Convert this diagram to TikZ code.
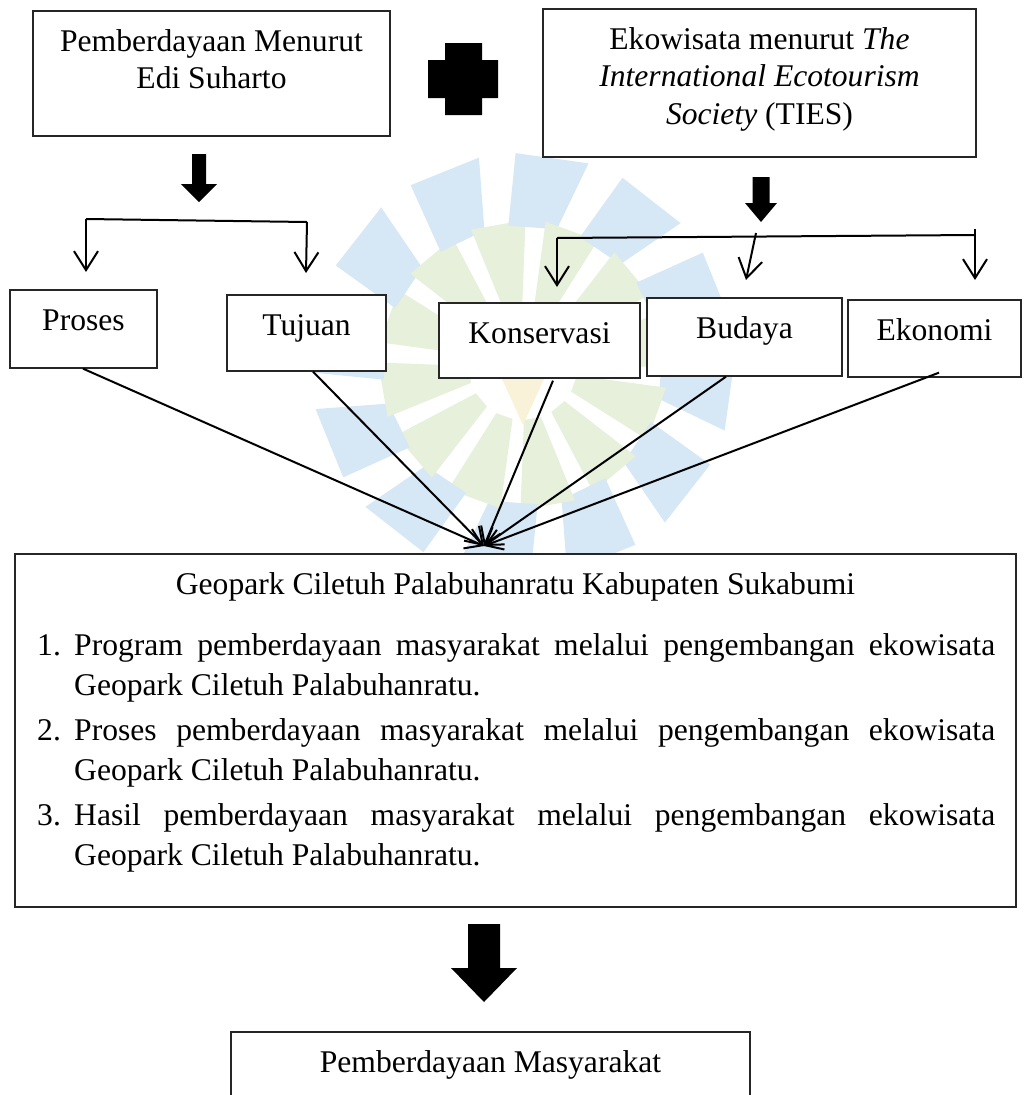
\documentclass[tikz,border=0pt]{standalone}
\usepackage{fontspec}
\setmainfont{Liberation Serif}
\usetikzlibrary{arrows.meta}
\definecolor{wmblue}{RGB}{214,231,245}
\definecolor{wmgreen}{RGB}{230,240,219}
\definecolor{wmyellow}{RGB}{249,242,216}
\newcommand\blkarrow[6]{% x, top, shaft half, shaft bottom, head half, tip
  \fill (#1-#3,#2) -- (#1+#3,#2) -- (#1+#3,#4) -- (#1+#5,#4) -- (#1,#6) -- (#1-#5,#4) -- (#1-#3,#4) -- cycle;}
\begin{document}
\begin{tikzpicture}[x=1pt,y=-1pt,
  box/.style={draw=black!85, line width=1.3pt, fill=white, inner sep=0pt,
    font=\fontsize{31.6}{37.7}\selectfont, text height=40pt},
  txt/.style={inner sep=0pt, anchor=base, font=\fontsize{31.6}{37.7}\selectfont},
  itemtxt/.style={inner sep=0pt, anchor=base west, text width=921pt, align=justify,
    font=\fontsize{31.6}{40}\selectfont},
  plain/.style={line width=2pt},
  conn/.style={line width=2pt, -{Straight Barb[length=19pt,width=24pt]}},
  connin/.style={line width=2pt, -{Straight Barb[length=16pt,width=21pt]}},
]
\useasboundingbox (0,0) rectangle (1023,1095);
\clip (0,0) rectangle (1023,1095);
\fill[white] (0,0) rectangle (1023,1095);

% faint watermark
\begin{scope}[shift={(523,365)}]
  \foreach \t in {5,35,...,335} {
    \fill[wmblue] (\t-11:140) -- (\t+9:140) -- (\t+13:212) -- (\t-7:212) -- cycle;
    \fill[wmgreen] (\t+6:55) -- (\t+24:55) -- (\t+26:145) -- (\t+4:145) -- cycle;
  }
  \fill[wmyellow] (90:60) -- (150:25) -- (210:60) -- (270:25) -- (330:60) -- (30:25) -- cycle;
\end{scope}

% top boxes
\node[box, minimum width=357pt, text depth=85pt] (edi) at (211.5,73.5)
  {\parbox[t]{357pt}{\centering Pemberdayaan Menurut\\Edi Suharto}};
\node[box, minimum width=433pt, text depth=108pt] (eko) at (759.5,83)
  {\parbox[t]{433pt}{\centering Ekowisata menurut \textit{The}\\\textit{International Ecotourism}\\\textit{Society} (TIES)}};

% plus sign
\fill (445,43) -- (482,43) -- (482,60) -- (498,60) -- (498,98) -- (482,98) -- (482,115)
  -- (445,115) -- (445,98) -- (428,98) -- (428,60) -- (445,60) -- cycle;

% block arrows
\blkarrow{199}{154}{7}{184}{18}{202}
\blkarrow{761}{177}{8.5}{203}{16}{222}
\blkarrow{484}{924}{16}{968}{33}{1002}

% second row boxes
\node[box, minimum width=147pt, text depth=38pt] (proses) at (83.5,329) {Proses};
\node[box, minimum width=159pt, text depth=36pt] (tujuan) at (306.5,333) {Tujuan};
\node[box, minimum width=201pt, text depth=35pt] (kons) at (539.5,340.5) {Konservasi};
\node[box, minimum width=195pt, text depth=38pt] (budaya) at (744.5,337) {Budaya};
\node[box, minimum width=173pt, text depth=37pt] (ekonomi) at (934.5,338.5) {Ekonomi};

% bracket 1
\coordinate (b1l) at (86,219);
\coordinate (b1r) at (307,222);
\coordinate (t1) at (86,272);
\coordinate (t2) at (306,273);
\draw[plain] (b1l) -- (b1r);
\draw[conn] (b1l) -- (t1);
\draw[conn] (b1r) -- (t2);

% bracket 2
\coordinate (b2l) at (557,238);
\coordinate (b2r) at (975,235);
\coordinate (b2m) at (756,233);
\coordinate (b2rt) at (975,229);
\coordinate (t3) at (557,287);
\coordinate (t4) at (746,280);
\coordinate (t5) at (975,280);
\draw[plain] (b2l) -- (b2r);
\draw[conn] (b2l) -- (t3);
\draw[conn] (b2m) -- (t4);
\draw[conn] (b2rt) -- (t5);

% big box
\node[draw=black!85, line width=1.3pt, fill=white, inner sep=0pt,
  minimum width=1001pt, minimum height=353pt] (geo) at (515.5,730.5) {};
\node[txt] (geotitle) at (515.5,594) {Geopark Ciletuh Palabuhanratu Kabupaten Sukabumi};
\node[txt, anchor=base west] (n1) at (37,655) {1.};
\node[txt, anchor=base west] (n2) at (37,740) {2.};
\node[txt, anchor=base west] (n3) at (37,825) {3.};
\node[itemtxt] (item1) at (74,655) {Program pemberdayaan masyarakat melalui pengembangan ekowisata\linebreak Geopark Ciletuh Palabuhanratu.};
\node[itemtxt] (item2) at (74,740) {Proses pemberdayaan masyarakat melalui pengembangan ekowisata\linebreak Geopark Ciletuh Palabuhanratu.};
\node[itemtxt] (item3) at (74,825) {Hasil pemberdayaan masyarakat melalui pengembangan ekowisata\linebreak Geopark Ciletuh Palabuhanratu.};

% converging arrows
\coordinate (conv) at (484,546);
\draw[connin] ([xshift=-0.5pt]proses.south) -- (conv);
\draw[connin] ([xshift=6.5pt]tujuan.south) -- (conv);
\draw[connin] ([xshift=13.5pt,yshift=-2pt]kons.south) -- (conv);
\draw[connin] ([xshift=-18.5pt]budaya.south) -- (conv);
\draw[connin] ([xshift=4.5pt,yshift=5pt]ekonomi.south) -- (conv);

% final box
\node[box, minimum width=519pt, text depth=48pt] (final) at (490.5,1076) {Pemberdayaan Masyarakat};
\end{tikzpicture}
\end{document}
